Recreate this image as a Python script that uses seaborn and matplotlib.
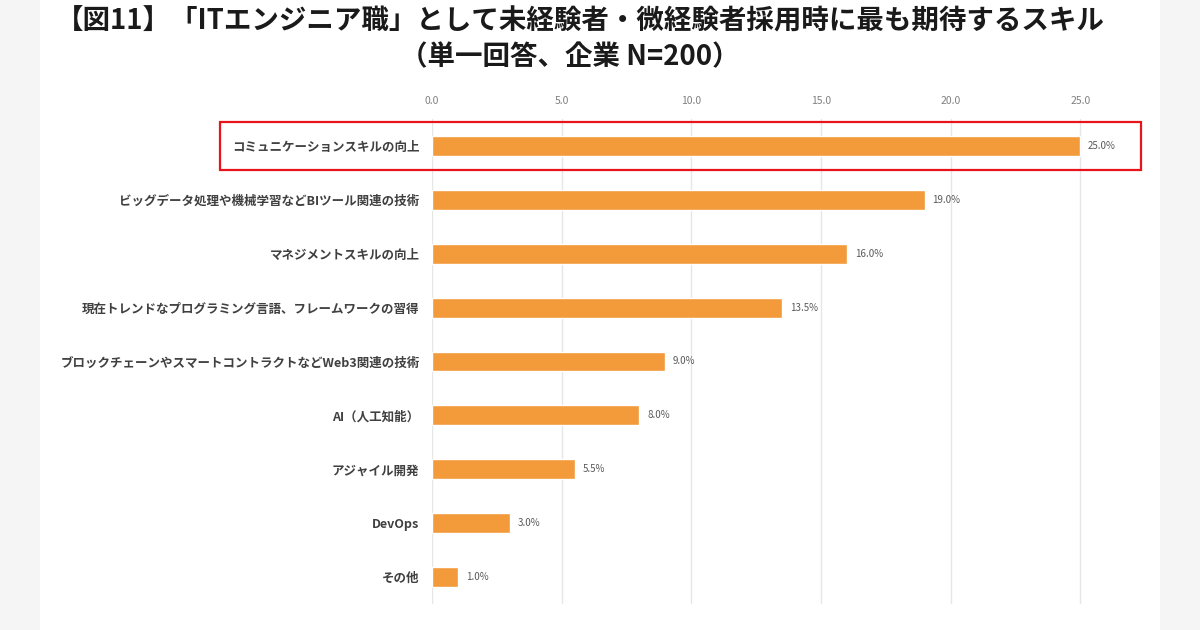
import matplotlib
matplotlib.use("Agg")
import matplotlib.pyplot as plt
from matplotlib.patches import Rectangle
import pandas as pd
import seaborn as sns

# データ (図11, 企業 N=200, 単位 %)
skills = [
    "コミュニケーションスキルの向上",
    "ビッグデータ処理や機械学習などBIツール関連の技術",
    "マネジメントスキルの向上",
    "現在トレンドなプログラミング言語、フレームワークの習得",
    "ブロックチェーンやスマートコントラクトなどWeb3関連の技術",
    "AI（人工知能）",
    "アジャイル開発",
    "DevOps",
    "その他",
]
shares = [25.0, 19.0, 16.0, 13.5, 9.0, 8.0, 5.5, 3.0, 1.0]
x_ticks = [0.0, 5.0, 10.0, 15.0, 20.0, 25.0]

title_line1 = "【図11】「ITエンジニア職」として未経験者・微経験者採用時に最も期待するスキル"
title_line2 = "（単一回答、企業 N=200）"

BAR = "#F39A3B"

sns.set_theme(style="white")
plt.rcParams["font.family"] = ["Noto Sans CJK JP", "DejaVu Sans"]

df = pd.DataFrame({"skill": skills, "share": shares})

fig = plt.figure(figsize=(12, 6.3), dpi=100)
fig.patch.set_facecolor("#F5F5F5")

# 中央の白いパネル (背景用の axes)
bg = fig.add_axes([40 / 1200, 0, 1120 / 1200, 1], zorder=0)
bg.set_facecolor("white")
bg.set_xticks([])
bg.set_yticks([])
for s in bg.spines.values():
    s.set_visible(False)

ax = fig.add_axes([432 / 1200, 26 / 630, 713 / 1200, 485 / 630], zorder=2)
ax.set_facecolor("none")
sns.barplot(data=df, x="share", y="skill", orient="h", color=BAR, width=0.37,
            saturation=1, ax=ax, zorder=3)

ax.set_xlim(0, 27.5)
ax.set_xticks(x_ticks)
ax.set_xticklabels([f"{t:.1f}" for t in x_ticks], fontsize=7.5, color="#808080")
ax.xaxis.tick_top()
ax.tick_params(axis="x", length=0, pad=9)
ax.tick_params(axis="y", length=0, pad=9)
for lab in ax.get_yticklabels():
    lab.set_fontsize(9)
    lab.set_fontweight("bold")
    lab.set_color("#404040")
ax.set_xlabel("")
ax.set_ylabel("")
for s in ax.spines.values():
    s.set_visible(False)
for t in x_ticks:
    ax.axvline(t, color="#E6E6E6", lw=1, zorder=1)

for i, v in enumerate(shares):
    ax.text(v + 0.3, i, f"{v:.1f}%", va="center", ha="left",
            fontsize=7, color="#595959")

# 強調枠
fig.add_artist(Rectangle((220 / 1200, 1 - 170 / 630), 921 / 1200, 48 / 630,
                         transform=fig.transFigure, fill=False,
                         edgecolor="#E8131B", lw=1.6, zorder=5))

fig.text(0.484, 1 - 22 / 630, title_line1, ha="center", va="center",
         fontsize=19.8, fontweight="bold", color="#1A1A1A", zorder=5)
fig.text(0.475, 1 - 57 / 630, title_line2, ha="center", va="center",
         fontsize=19.8, fontweight="bold", color="#1A1A1A", zorder=5)

fig.savefig("out.png", dpi=100, facecolor=fig.get_facecolor())
